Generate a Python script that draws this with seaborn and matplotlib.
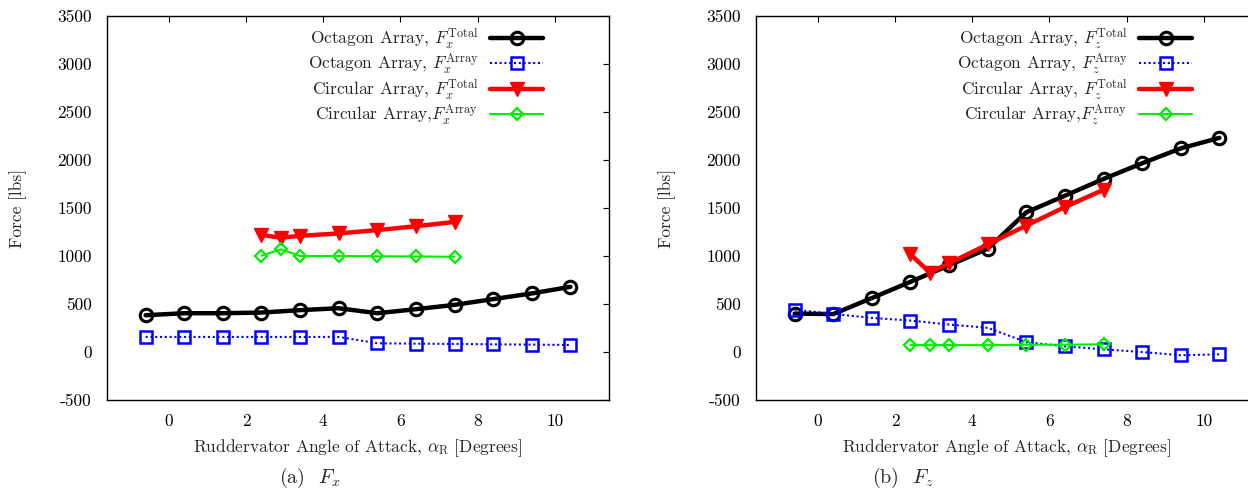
import numpy as np
import pandas as pd
import matplotlib
matplotlib.use("Agg")
import matplotlib.pyplot as plt
import seaborn as sns

# ---------------- data ----------------
alpha_oct = [-0.6, 0.4, 1.4, 2.4, 3.4, 4.4, 5.4, 6.4, 7.4, 8.4, 9.4, 10.4]
alpha_circ = [2.4, 2.9, 3.4, 4.4, 5.4, 6.4, 7.4]

fx_oct_total = [383, 404, 404, 411, 436, 456, 404, 446, 491, 551, 610, 679]
fx_oct_array = [157, 157, 157, 157, 157, 157, 91, 87, 84, 80, 77, 73]
fx_circ_total = [1220, 1190, 1210, 1235, 1270, 1310, 1355]
fx_circ_array = [1003, 1070, 1000, 1000, 997, 995, 992]

fz_oct_total = [400, 395, 562, 731, 903, 1076, 1455, 1628, 1803, 1966, 2121, 2231]
fz_oct_array = [441, 397, 355, 328, 286, 252, 103, 59, 28, 0, -34, -24]
fz_circ_total = [1017, 828, 924, 1121, 1317, 1510, 1690]
fz_circ_array = [72, 72, 72, 72, 76, 76, 80]

yticks = [-500, 0, 500, 1000, 1500, 2000, 2500, 3000, 3500]
xticks = [0, 2, 4, 6, 8, 10]
captions = ["(a)  $F_x$", "(b)  $F_z$"]
comp = ["x", "z"]

# ---------------- style ----------------
sns.set_theme(style="white")
plt.rcParams["font.family"] = ["cmr10", "DejaVu Serif"]
plt.rcParams["mathtext.fontset"] = "cm"
plt.rcParams["axes.unicode_minus"] = False
plt.rcParams["axes.formatter.use_mathtext"] = False

fig = plt.figure(figsize=(12.48, 4.9), dpi=100)
W, H = 1248, 490
ax_l = fig.add_axes([107 / W, (H - 400) / H, 502 / W, 384 / H])
ax_r = fig.add_axes([756 / W, (H - 400) / H, 502 / W, 384 / H])

panels = [
    (ax_l, fx_oct_total, fx_oct_array, fx_circ_total, fx_circ_array),
    (ax_r, fz_oct_total, fz_oct_array, fz_circ_total, fz_circ_array),
]

FS = 12.5
for i, (ax, ot, oa, ct, ca) in enumerate(panels):
    c = comp[i]
    df_o = pd.DataFrame({"alpha": alpha_oct, "tot": ot, "arr": oa})
    df_c = pd.DataFrame({"alpha": alpha_circ, "tot": ct, "arr": ca})
    sns.lineplot(data=df_o, x="alpha", y="tot", ax=ax, sort=False, color="black",
                 linewidth=3.2, marker="o", markersize=9, markerfacecolor="none",
                 markeredgecolor="black", markeredgewidth=2.2,
                 label=r"Octagon Array, $F_%s^{\mathrm{Total}}$" % c)
    sns.lineplot(data=df_o, x="alpha", y="arr", ax=ax, sort=False, color="blue",
                 linewidth=1.5, linestyle=(0, (1, 1.3)), marker="s", markersize=8,
                 markerfacecolor="none", markeredgecolor="blue", markeredgewidth=1.8,
                 label=r"Octagon Array, $F_%s^{\mathrm{Array}}$" % c)
    sns.lineplot(data=df_c, x="alpha", y="tot", ax=ax, sort=False, color="red",
                 linewidth=3.2, marker="v", markersize=10.5, markerfacecolor="red",
                 markeredgecolor="red", markeredgewidth=1,
                 label=r"Circular Array, $F_%s^{\mathrm{Total}}$" % c)
    sns.lineplot(data=df_c, x="alpha", y="arr", ax=ax, sort=False, color="#00ee00",
                 linewidth=1.5, marker="D", markersize=6.5, markerfacecolor="none",
                 markeredgecolor="#00ee00", markeredgewidth=1.6,
                 label=r"Circular Array,$F_%s^{\mathrm{Array}}$" % c)

    ax.set_xlim(-1.6, 11.4)
    ax.set_ylim(-500, 3500)
    ax.set_xticks(xticks)
    ax.set_yticks(yticks)
    ax.tick_params(direction="in", length=4, width=0.8, top=True, right=True,
                   labelsize=FS, colors="black")
    ax.tick_params(axis="x", pad=10)
    ax.tick_params(axis="y", pad=11)
    for s in ax.spines.values():
        s.set_visible(True)
        s.set_color("black")
        s.set_linewidth(1.0)
    ax.set_xlabel(r"Ruddervator Angle of Attack, $\alpha_{\mathrm{R}}$ [Degrees]", fontsize=FS)
    ax.set_ylabel("Force [lbs]", fontsize=FS)
    ax.yaxis.set_label_coords(-0.16, 0.5)
    ax.xaxis.set_label_coords(0.5, -0.098)
    ax.legend(loc="upper right", bbox_to_anchor=(0.869, 0.972), frameon=False,
              markerfirst=False, fontsize=FS, handlelength=3.05,
              handletextpad=0.7, labelspacing=0.05, borderaxespad=0.0,
              borderpad=0.0)

fig.text(310 / W, 1 - 478 / H, captions[0], ha="center", va="center", fontsize=14.5)
fig.text(903 / W, 1 - 478 / H, captions[1], ha="center", va="center", fontsize=14.5)

fig.savefig("out.png", dpi=100)
